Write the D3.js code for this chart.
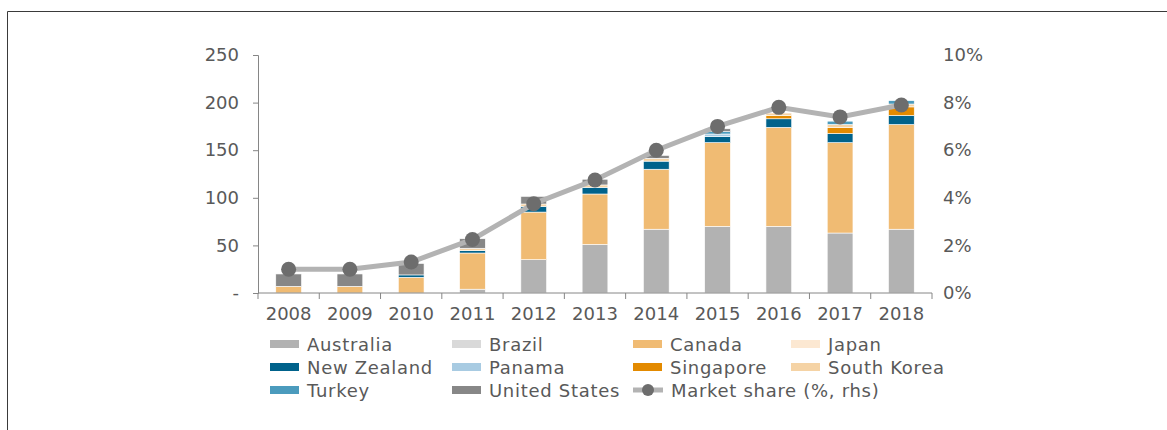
<!DOCTYPE html>
<html>
<head>
<meta charset="utf-8">
<script src="https://cdn.jsdelivr.net/npm/d3@7"></script>
<style>
  body { margin: 0; background: #fff; }
  #chart { width: 1167px; height: 430px; }
  text { font-family: "DejaVu Sans", Verdana, sans-serif; fill: #595959; }
</style>
</head>
<body>
<div id="chart"></div>
<script>
var years = ["2008", "2009", "2010", "2011", "2012", "2013", "2014", "2015", "2016", "2017", "2018"]

var australia   = [0, 0, 0, 4, 35, 51, 67, 70, 70, 63, 67]
var brazil      = [0, 0, 0, 0, 0, 0, 0, 0, 0, 0, 0]
var canada      = [7, 7, 16.5, 38, 50, 53, 63, 88, 104, 95, 110]
var japan       = [0, 0, 0, 0, 0, 0, 0, 0, 0, 0, 0]
var newZealand  = [0, 0, 2.5, 2.5, 6, 7, 8.5, 6.5, 9, 9.5, 9.5]
var panama      = [0, 0, 0, 0, 0, 0, 0, 2.5, 0, 0, 0]
var singapore   = [0, 0, 0, 0, 0, 0, 0, 0, 3.5, 6.5, 9]
var southKorea  = [0, 0, 0, 2.5, 2.5, 2.5, 3, 0, 2.5, 3, 3]
var turkey      = [0, 0, 0, 0, 0, 0, 0, 2.5, 0, 3.5, 3.5]
var unitedStates = [13, 13, 12, 10, 8, 6, 3, 3, 0, 0, 0]

var marketShare = [1.0, 1.0, 1.3, 2.25, 3.75, 4.75, 6.0, 7.0, 7.8, 7.4, 7.9]

var leftTicks = [0, 50, 100, 150, 200, 250]
var rightTicks = [0, 2, 4, 6, 8, 10]

var series = [
    { key: "Australia",     values: australia,    color: "#b2b2b2" },
    { key: "Brazil",        values: brazil,       color: "#d9d9d9" },
    { key: "Canada",        values: canada,       color: "#f0bb73" },
    { key: "Japan",         values: japan,        color: "#fce8d2" },
    { key: "New Zealand",   values: newZealand,   color: "#00628b" },
    { key: "Panama",        values: panama,       color: "#a8cbe2" },
    { key: "Singapore",     values: singapore,    color: "#e38a00" },
    { key: "South Korea",   values: southKorea,   color: "#f5d3a5" },
    { key: "Turkey",        values: turkey,       color: "#4b9bbd" },
    { key: "United States", values: unitedStates, color: "#878787" }
]

var W = 1167, H = 430
var svg = d3.select("#chart").append("svg")
            .attr("width", W)
            .attr("height", H)

// frame
svg.append("path")
   .attr("d", "M7.5,430 V11.5 H1167")
   .attr("fill", "none")
   .attr("stroke", "#3a3a3a")
   .attr("stroke-width", 1)

var x = d3.scaleBand().domain(years).range([258, 932]).paddingInner(0.58).paddingOuter(0.29)
var xb = d3.scaleBand().domain(years).range([258, 932])
var y = d3.scaleLinear().domain([0, 250]).range([293, 55])
var y2 = d3.scaleLinear().domain([0, 10]).range([293, 55])

var rows = years.map(function (yr, i) {
    var r = { year: yr }
    series.forEach(function (s) { r[s.key] = s.values[i] })
    return r
})
var stack = d3.stack().keys(series.map(function (s) { return s.key }))(rows)

svg.append("g").selectAll("g")
   .data(stack)
   .enter().append("g")
   .attr("fill", function (d, i) { return series[i].color })
   .selectAll("rect")
   .data(function (d) { return d })
   .enter().append("rect")
   .attr("x", function (d) { return x(d.data.year) })
   .attr("width", x.bandwidth())
   .attr("y", function (d) { return y(d[1]) })
   .attr("height", function (d) { return Math.max(0, y(d[0]) - y(d[1])) })
   .attr("stroke", "#fff")
   .attr("stroke-width", function (d) { return d[1] > d[0] ? 0.6 : 0 })

// left axis
var gl = svg.append("g").attr("transform", "translate(258,0)")
    .call(d3.axisLeft(y).tickValues(leftTicks).tickSize(5).tickPadding(14)
        .tickFormat(function (d) { return d === 0 ? "-" : d }))
gl.select(".domain").attr("stroke", "#868686")
gl.selectAll(".tick line").attr("stroke", "#868686")
gl.selectAll("text").style("font-size", "18px").attr("fill", "#595959")

// right axis labels
var gr = svg.append("g").attr("transform", "translate(932,0)")
    .call(d3.axisRight(y2).tickValues(rightTicks).tickSize(0).tickPadding(11)
        .tickFormat(function (d) { return d + "%" }))
gr.select(".domain").remove()
gr.selectAll("text").style("font-size", "18px").attr("fill", "#595959")

// x axis
var gx = svg.append("g").attr("transform", "translate(0,293)")
gx.append("line").attr("x1", 258).attr("x2", 932).attr("stroke", "#868686")
gx.selectAll("line.tk")
  .data(years.concat(["end"]))
  .enter().append("line")
  .attr("class", "tk")
  .attr("x1", function (d, i) { return i < years.length ? xb(d) : 932 })
  .attr("x2", function (d, i) { return i < years.length ? xb(d) : 932 })
  .attr("y1", 0).attr("y2", 6)
  .attr("stroke", "#868686")
gx.selectAll("text")
  .data(years)
  .enter().append("text")
  .attr("x", function (d) { return xb(d) + xb.bandwidth() / 2 })
  .attr("y", 27)
  .attr("text-anchor", "middle")
  .style("font-size", "18px")
  .text(function (d) { return d })

// market share line
var line = d3.line()
    .x(function (d, i) { return xb(years[i]) + xb.bandwidth() / 2 })
    .y(function (d) { return y2(d) })
svg.append("path")
   .datum(marketShare)
   .attr("d", line)
   .attr("fill", "none")
   .attr("stroke", "#b3b3b3")
   .attr("stroke-width", 5)
svg.append("g").selectAll("circle")
   .data(marketShare)
   .enter().append("circle")
   .attr("cx", function (d, i) { return xb(years[i]) + xb.bandwidth() / 2 })
   .attr("cy", function (d) { return y2(d) })
   .attr("r", 7.5)
   .attr("fill", "#6d6d6d")

// legend
var colX = [270, 452, 633, 791]
var rowY = [344, 367, 390]
var items = series.map(function (s) { return { key: s.key, color: s.color, line: false } })
items.push({ key: "Market share (%, rhs)", color: "#b3b3b3", line: true })

var legend = svg.selectAll(".legend")
    .data(items)
    .enter().append("g")
    .attr("class", "legend")
    .attr("transform", function (d, i) {
        return "translate(" + colX[i % 4] + "," + rowY[Math.floor(i / 4)] + ")"
    })

legend.filter(function (d) { return !d.line }).append("rect")
      .attr("x", 0).attr("y", -4)
      .attr("width", 29).attr("height", 8)
      .style("fill", function (d) { return d.color })

var lm = legend.filter(function (d) { return d.line })
lm.append("line").attr("x1", 0).attr("x2", 30).attr("y1", 0).attr("y2", 0)
  .attr("stroke", "#b3b3b3").attr("stroke-width", 5)
lm.append("circle").attr("cx", 15).attr("cy", 0).attr("r", 6).attr("fill", "#6d6d6d")

legend.append("text")
      .attr("x", function (d) { return d.line ? 38 : 37 })
      .attr("y", 6.5)
      .style("font-size", "18px")
      .style("letter-spacing", "0.7px")
      .text(function (d) { return d.key })
</script>
</body>
</html>
